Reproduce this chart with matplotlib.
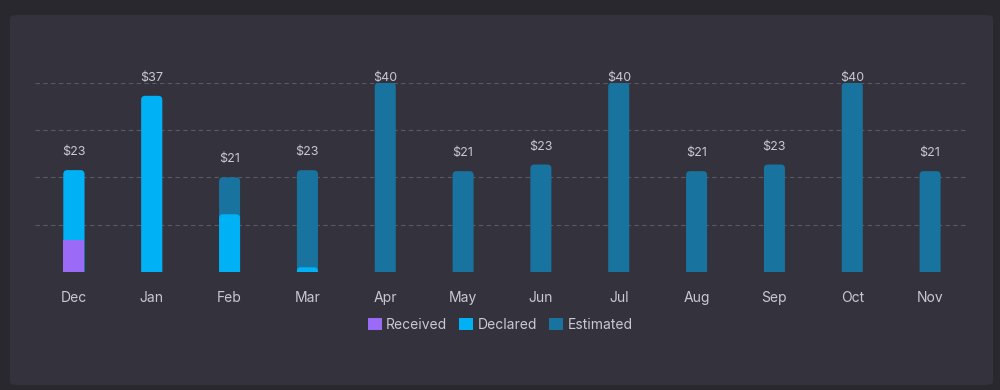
import matplotlib
matplotlib.use('Agg')
import matplotlib.pyplot as plt
import numpy as np
from matplotlib.patches import FancyBboxPatch, Patch

months = ['Dec', 'Jan', 'Feb', 'Mar', 'Apr', 'May', 'Jun', 'Jul', 'Aug', 'Sep', 'Oct', 'Nov']
received = [6.8, 0, 0, 0, 0, 0, 0, 0, 0, 0, 0, 0]
declared = [14.7, 37.2, 12.2, 1.0, 0, 0, 0, 0, 0, 0, 0, 0]
estimated = [0, 0, 7.8, 20.5, 40, 21.3, 22.7, 40, 21.3, 22.7, 40, 21.3]
totals_text = ['$23', '$37', '$21', '$23', '$40', '$21', '$23', '$40', '$21', '$23', '$40', '$21']

c_bg = '#29282f'
c_card = '#33323d'
c_received = '#9b6bf8'
c_declared = '#00b1f6'
c_estimated = '#19739f'
c_text = '#c9c9d1'
c_grid = '#5a5a66'

plt.rcParams['font.family'] = ['Inter', 'DejaVu Sans']

fig = plt.figure(figsize=(10, 3.9), dpi=100)
fig.patch.set_facecolor(c_bg)

card = FancyBboxPatch((10 / 1000, 5 / 390), 983 / 1000, 370 / 390,
                      boxstyle='round,pad=0,rounding_size=0.008',
                      transform=fig.transFigure, facecolor=c_card,
                      edgecolor='none', zorder=-5)
fig.patches.append(card)

ax_w, ax_h = 934, 189.4  # axes size in px
ax = fig.add_axes([0.035, 118 / 390, ax_w / 1000, ax_h / 390])
ax.set_facecolor('none')
ax.set_zorder(1)

x = np.arange(len(months))
rec = np.array(received)
dec = rec + np.array(declared)
est = dec + np.array(estimated)
w = 0.27
ymax = 40

ax.set_xlim(-0.5, len(months) - 0.5)
ax.set_ylim(0, ymax)

for g in [0, 10, 20, 30, 40]:
    ax.axhline(g, color=c_grid, lw=0.8, dashes=(4.0, 3.0), zorder=0)

# data units per pixel, used to round the bar tops
xpp = len(months) / ax_w
ypp = ymax / ax_h
radius = 4 * xpp


def rounded(bars, color, z):
    for r in bars:
        h = r.get_height()
        if not h > 0:
            continue
        r.set_visible(False)
        # start below zero so the bottom corners get clipped off
        p = FancyBboxPatch((r.get_x(), -6 * ypp), r.get_width(), h + 6 * ypp,
                           boxstyle='round,pad=0,rounding_size=%f' % radius,
                           mutation_aspect=ypp / xpp, facecolor=color,
                           edgecolor='none', zorder=z)
        ax.add_patch(p)


rounded(ax.bar(x, est, width=w), c_estimated, 2)
rounded(ax.bar(x, np.where(dec > 0, dec, np.nan), width=w), c_declared, 3)
ax.bar(x, np.where(rec > 0, rec, np.nan), width=w, color=c_received, zorder=4, linewidth=0)

for xi, top, lab in zip(x, est, totals_text):
    ax.text(xi, min(top + 3.8, 41.0), lab, ha='center', va='center',
            color=c_text, fontsize=9, zorder=5, clip_on=False)

ax.set_yticks([])
ax.set_xticks(x)
ax.set_xticklabels(months, color=c_text, fontsize=10)
ax.tick_params(axis='x', length=0, pad=14)
for s in ax.spines.values():
    s.set_visible(False)

handles = [Patch(facecolor=c_received, label='Received'),
           Patch(facecolor=c_declared, label='Declared'),
           Patch(facecolor=c_estimated, label='Estimated')]
leg = fig.legend(handles=handles, loc='center', bbox_to_anchor=(0.5, 1 - 325 / 390),
                 ncol=3, frameon=False, fontsize=10, handlelength=1.0, handleheight=1.0,
                 handletextpad=0.3, columnspacing=0.9, labelcolor=c_text)

fig.savefig('out.png', dpi=100, facecolor=c_bg)
